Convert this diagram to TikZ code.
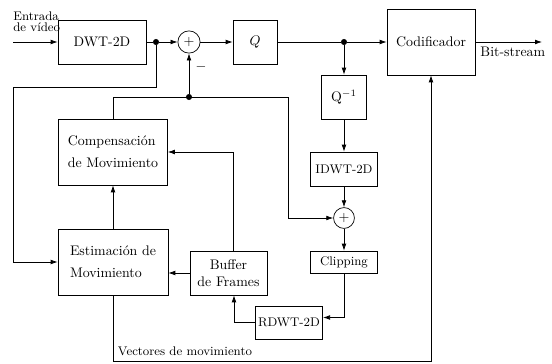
\documentclass[tikz,border=0pt]{standalone}
\usetikzlibrary{calc, arrows.meta}

\begin{document}
\begin{tikzpicture}[x=0.72pt,y=-0.72pt,line width=0.5pt,
  bloque/.style={draw, rectangle, inner sep=2pt},
  suma/.style={draw, circle, inner sep=0pt, minimum size=16pt},
  punto/.style={fill, circle, inner sep=0pt, minimum size=4.4pt},
  flecha/.style={-{Latex[length=5pt,width=3.4pt]}}]
\useasboundingbox (0,0) rectangle (552,364);
% Blocks
\node[bloque, minimum width=63.4pt, minimum height=31.7pt] (dwt) at (102,42) {DWT-2D};
\node[suma] (s1) at (189,42) {$+$};
\node[bloque, minimum width=31.7pt, minimum height=31.7pt] (q) at (255,42) {$Q$};
\node[bloque, minimum width=63.4pt, minimum height=47.5pt] (cod) at (431,42) {Codificador};
\node[bloque, minimum width=32.4pt, minimum height=31.7pt] (qinv) at (344,97) {Q$^{-1}$};
\node[bloque, minimum width=48.2pt, minimum height=24.5pt, font=\small] (idwt) at (344,169) {IDWT-2D};
\node[suma, minimum size=15pt] (s2) at (344,218) {$+$};
\node[bloque, minimum width=48.2pt, minimum height=15.8pt, font=\small] (clip) at (344,262) {Clipping};
\node[bloque, minimum width=47.5pt, minimum height=23.8pt, font=\small] (rdwt) at (289,322.5) {RDWT-2D};
\node[bloque, minimum width=55.4pt, minimum height=31.7pt, align=center] (buffer) at (228.5,273) {Buffer\\de Frames};
\node[bloque, minimum width=79.2pt, minimum height=47.5pt, align=left] (est) at (113,262) {Estimación de\\[4pt]Movimiento};
\node[bloque, minimum width=78.5pt, minimum height=47.5pt, align=left] (comp) at (113,152) {Compensación\\[4pt]de Movimiento};
% Coordinates
\node[punto] (p1) at (156,42) {};
\node[punto] (p2) at (344,42) {};
\node[punto] (p3) at (189,97) {};
\coordinate (in) at (13,42);
\coordinate (out) at (542,42);
\coordinate (c1) at (288,97);
\coordinate (c2) at (13,87);
\coordinate (c3) at (113,361);
% Forward path
\draw[flecha] (in) -- (dwt);
\node[anchor=south west, inner sep=0pt, align=left, font=\small] (entrada) at (13,32) {Entrada\\[-3pt]de vídeo};
\draw (dwt) -- (p1);
\draw[flecha] (p1) -- (s1);
\draw[flecha] (s1) -- (q);
\draw (q) -- (p2);
\draw[flecha] (p2) -- (cod);
\draw[flecha] (cod) -- node[below, xshift=3pt] {Bit-stream} (out);
% Inverse path
\draw[flecha] (p2) -- (qinv);
\draw[flecha] (qinv) -- (idwt);
\draw[flecha] (idwt) -- (s2);
\draw[flecha] (s2) -- (clip);
\draw[flecha] (clip) |- ($(rdwt.east)+(0,-5)$);
\draw[flecha] (rdwt.west) -| ($(buffer.south)+(5.5,0)$);
\draw[flecha] (buffer.west) -- (buffer.west -| est.east);
\draw[flecha] ($(buffer.north)+(4.5,0)$) |- (comp.east);
\draw[flecha] (est) -- (comp);
% Feedback
\draw[flecha] (comp.north) |- (c1) |- (s2);
\draw[flecha] (p3) -- (s1);
\node (menos) at (201,67) {$-$};
\draw[flecha] (p1) |- (c2) |- (est);
\draw[flecha] (est) -- (c3) node[above right, font=\small] (vect) {Vectores de movimiento} -| (cod);
\end{tikzpicture}
\end{document}
